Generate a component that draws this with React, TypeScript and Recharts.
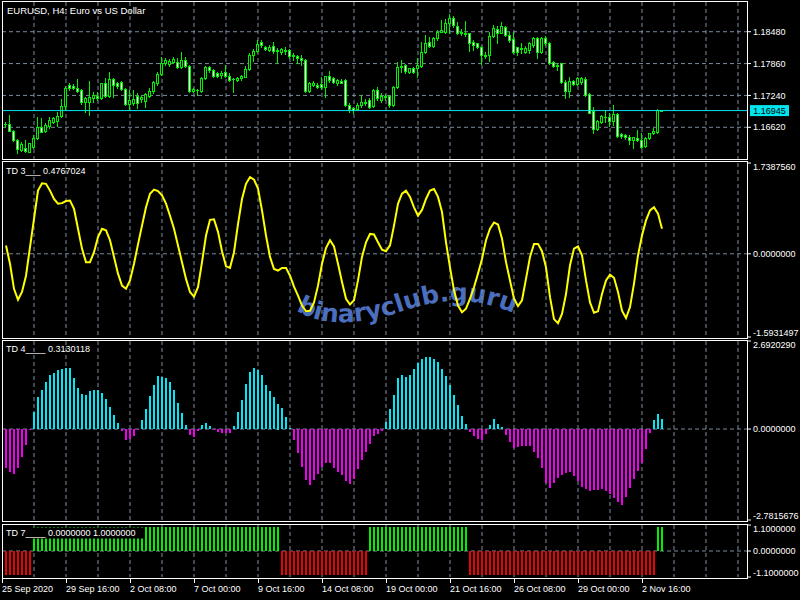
import React from 'react';
import {
  ComposedChart, Bar, Line, XAxis, YAxis, CartesianGrid, ReferenceLine,
} from 'recharts';

// EURUSD H4 candles, one entry per bar (25 Sep - 3 Nov 2020)
const opens = [
  1.16685, 1.16679, 1.16556, 1.16374, 1.16180, 1.16225, 1.16148, 1.16245, 1.16407, 1.16621,
  1.16556, 1.16647, 1.16731, 1.16750, 1.16841, 1.17035, 1.17444, 1.17424, 1.17379, 1.17346,
  1.17120, 1.17120, 1.17184, 1.17230, 1.17184, 1.17476, 1.17230, 1.17554, 1.17476, 1.17502,
  1.17359, 1.17074, 1.17087, 1.17230, 1.17178, 1.17139, 1.17230, 1.17333, 1.17489, 1.17657,
  1.17865, 1.17845, 1.17897, 1.17897, 1.17800, 1.17930, 1.17813, 1.17333, 1.17346, 1.17333,
  1.17573, 1.17787, 1.17735, 1.17670, 1.17638, 1.17703, 1.17619, 1.17554, 1.17540, 1.17573,
  1.17606, 1.17748, 1.18027, 1.18111, 1.18286, 1.18189, 1.18124, 1.18202, 1.18111, 1.18092,
  1.18124, 1.18124, 1.18007, 1.18007, 1.17962, 1.17930, 1.17333, 1.17444, 1.17444, 1.17463,
  1.17398, 1.17619, 1.17573, 1.17489, 1.17528, 1.17540, 1.17055, 1.16990, 1.16971, 1.17055,
  1.17120, 1.17152, 1.17035, 1.17346, 1.17152, 1.17230, 1.17230, 1.17055, 1.17398, 1.17800,
  1.17832, 1.17703, 1.17781, 1.17768, 1.17813, 1.18092, 1.18286, 1.18208, 1.18351, 1.18480,
  1.18480, 1.18642, 1.18740, 1.18591, 1.18480, 1.18461, 1.18448, 1.18286, 1.18254, 1.18176,
  1.18027, 1.18027, 1.18396, 1.18526, 1.18461, 1.18565, 1.18416, 1.18331, 1.18176, 1.18156,
  1.18092, 1.18124, 1.18221, 1.18351, 1.18092, 1.18351, 1.18267, 1.17897, 1.17832, 1.17865,
  1.17508, 1.17333, 1.17521, 1.17463, 1.17508, 1.17554, 1.17262, 1.16938, 1.16582, 1.16731,
  1.16815, 1.16815, 1.16750, 1.16880, 1.16491, 1.16465, 1.16439, 1.16374, 1.16413, 1.16374,
  1.16258, 1.16407, 1.16504, 1.16536, 1.16955,
];
const highs = [
  1.16731, 1.16860, 1.16569, 1.16387, 1.16342, 1.16374, 1.16323, 1.16472, 1.16828, 1.16796,
  1.16698, 1.16815, 1.16828, 1.16925, 1.17165, 1.17424, 1.17489, 1.17457, 1.17554, 1.17359,
  1.17217, 1.17521, 1.17314, 1.17314, 1.17489, 1.17573, 1.17703, 1.17573, 1.17508, 1.17515,
  1.17379, 1.17346, 1.17346, 1.17282, 1.17249, 1.17282, 1.17379, 1.17521, 1.17703, 1.17994,
  1.17962, 1.17943, 1.17981, 1.17962, 1.18085, 1.17981, 1.17832, 1.17379, 1.17359, 1.17606,
  1.17813, 1.17813, 1.17748, 1.17703, 1.17716, 1.17832, 1.17670, 1.17586, 1.17606, 1.17638,
  1.17813, 1.18059, 1.18137, 1.18318, 1.18318, 1.18202, 1.18221, 1.18286, 1.18156, 1.18169,
  1.18176, 1.18137, 1.18059, 1.18027, 1.18027, 1.17943, 1.17508, 1.17515, 1.17476, 1.17606,
  1.17619, 1.17716, 1.17606, 1.17554, 1.17554, 1.17554, 1.17087, 1.17022, 1.17100, 1.17249,
  1.17165, 1.17184, 1.17359, 1.17398, 1.17282, 1.17269, 1.17249, 1.17424, 1.17897, 1.17930,
  1.17845, 1.17781, 1.17800, 1.17962, 1.18286, 1.18416, 1.18383, 1.18383, 1.18513, 1.18707,
  1.18720, 1.18824, 1.18785, 1.18675, 1.18526, 1.18694, 1.18461, 1.18318, 1.18267, 1.18202,
  1.18092, 1.18480, 1.18610, 1.18591, 1.18675, 1.18591, 1.18480, 1.18480, 1.18189, 1.18267,
  1.18202, 1.18286, 1.18370, 1.18383, 1.18383, 1.18396, 1.18286, 1.17917, 1.17865, 1.17878,
  1.17540, 1.17593, 1.17540, 1.17593, 1.17593, 1.17593, 1.17282, 1.17009, 1.16763, 1.16860,
  1.16958, 1.16893, 1.17055, 1.16893, 1.16517, 1.16491, 1.16472, 1.16439, 1.16569, 1.16504,
  1.16426, 1.16517, 1.16601, 1.16984, 1.16965,
];
const lows = [
  1.16634, 1.16549, 1.16361, 1.16115, 1.16167, 1.16148, 1.16135, 1.16212, 1.16387, 1.16523,
  1.16536, 1.16601, 1.16698, 1.16647, 1.16815, 1.16958, 1.17346, 1.17359, 1.17307, 1.17074,
  1.16925, 1.16860, 1.17120, 1.17152, 1.17165, 1.17204, 1.17217, 1.17204, 1.17379, 1.17346,
  1.17055, 1.16958, 1.17055, 1.16990, 1.17120, 1.17022, 1.17204, 1.17282, 1.17444, 1.17638,
  1.17832, 1.17813, 1.17878, 1.17768, 1.17781, 1.17787, 1.17314, 1.17314, 1.17249, 1.17314,
  1.17560, 1.17703, 1.17606, 1.17593, 1.17573, 1.17593, 1.17528, 1.17314, 1.17528, 1.17540,
  1.17593, 1.17735, 1.17910, 1.18092, 1.18189, 1.18124, 1.18111, 1.18059, 1.17865, 1.18046,
  1.18046, 1.17962, 1.17930, 1.17865, 1.17832, 1.17314, 1.17314, 1.17424, 1.17379, 1.17359,
  1.17217, 1.17508, 1.17489, 1.17444, 1.17476, 1.17035, 1.16925, 1.16893, 1.16958, 1.17022,
  1.17055, 1.16990, 1.17009, 1.17152, 1.17120, 1.17152, 1.17022, 1.17035, 1.17379, 1.17703,
  1.17670, 1.17670, 1.17670, 1.17606, 1.17800, 1.18072, 1.18189, 1.18189, 1.18318, 1.18480,
  1.18448, 1.18448, 1.18578, 1.18435, 1.18416, 1.18396, 1.18111, 1.18124, 1.18156, 1.17852,
  1.17962, 1.17910, 1.18383, 1.18254, 1.18448, 1.18396, 1.18286, 1.18059, 1.18027, 1.18072,
  1.18059, 1.18072, 1.18189, 1.17962, 1.18072, 1.18221, 1.17852, 1.17800, 1.17735, 1.17489,
  1.17184, 1.17204, 1.17437, 1.17437, 1.17463, 1.17230, 1.16893, 1.16504, 1.16569, 1.16711,
  1.16731, 1.16647, 1.16666, 1.16426, 1.16407, 1.16387, 1.16297, 1.16212, 1.16361, 1.16212,
  1.16245, 1.16387, 1.16491, 1.16517, 1.16940,
];
const closes = [
  1.16688, 1.16556, 1.16374, 1.16199, 1.16297, 1.16161, 1.16310, 1.16420, 1.16621, 1.16536,
  1.16666, 1.16763, 1.16796, 1.16841, 1.17035, 1.17379, 1.17379, 1.17379, 1.17333, 1.17120,
  1.17184, 1.17217, 1.17249, 1.17191, 1.17476, 1.17230, 1.17554, 1.17444, 1.17424, 1.17359,
  1.17074, 1.17152, 1.17165, 1.17087, 1.17217, 1.17269, 1.17333, 1.17508, 1.17657, 1.17865,
  1.17930, 1.17910, 1.17943, 1.17800, 1.17930, 1.17813, 1.17333, 1.17359, 1.17346, 1.17573,
  1.17800, 1.17735, 1.17619, 1.17619, 1.17683, 1.17619, 1.17540, 1.17567, 1.17573, 1.17619,
  1.17748, 1.18027, 1.18111, 1.18234, 1.18221, 1.18137, 1.18176, 1.18111, 1.18124, 1.18137,
  1.18111, 1.18007, 1.18027, 1.17962, 1.17930, 1.17333, 1.17476, 1.17476, 1.17411, 1.17398,
  1.17619, 1.17540, 1.17508, 1.17540, 1.17489, 1.17055, 1.16971, 1.16958, 1.17055, 1.17120,
  1.17100, 1.17022, 1.17346, 1.17184, 1.17230, 1.17204, 1.17055, 1.17398, 1.17800, 1.17819,
  1.17716, 1.17768, 1.17703, 1.17832, 1.18092, 1.18267, 1.18208, 1.18351, 1.18480, 1.18513,
  1.18642, 1.18740, 1.18610, 1.18461, 1.18448, 1.18435, 1.18267, 1.18221, 1.18176, 1.18027,
  1.18007, 1.18396, 1.18545, 1.18448, 1.18591, 1.18416, 1.18318, 1.18092, 1.18092, 1.18137,
  1.18156, 1.18254, 1.18351, 1.18092, 1.18351, 1.18254, 1.17878, 1.17813, 1.17813, 1.17508,
  1.17333, 1.17521, 1.17463, 1.17573, 1.17573, 1.17249, 1.16906, 1.16582, 1.16750, 1.16841,
  1.16828, 1.16750, 1.16880, 1.16452, 1.16452, 1.16426, 1.16374, 1.16426, 1.16374, 1.16245,
  1.16407, 1.16504, 1.16556, 1.16955, 1.16945,
];

// TD 3 oscillator (yellow line)
const td3 = [
  0.16, -0.19, -0.67, -0.88, -0.73, -0.42, 0.13, 0.67, 1.21, 1.35,
  1.34, 1.21, 1.05, 0.96, 0.97, 1.01, 1.02, 0.86, 0.48, 0.10,
  -0.16, -0.16, 0.03, 0.32, 0.48, 0.45, 0.26, -0.06, -0.38, -0.61,
  -0.67, -0.51, -0.19, 0.18, 0.54, 0.89, 1.15, 1.23, 1.20, 1.12,
  0.96, 0.73, 0.48, 0.16, -0.16, -0.48, -0.73, -0.82, -0.64, -0.16,
  0.35, 0.65, 0.66, 0.42, 0.05, -0.24, -0.27, 0.03, 0.57, 1.05,
  1.34, 1.47, 1.42, 1.25, 0.83, 0.35, -0.06, -0.29, -0.32, -0.27,
  -0.27, -0.42, -0.63, -0.80, -0.99, -1.10, -1.09, -0.93, -0.61, -0.19,
  0.11, 0.26, 0.14, -0.19, -0.54, -0.86, -0.97, -0.89, -0.51, -0.06,
  0.22, 0.38, 0.37, 0.22, 0.08, 0.05, 0.16, 0.54, 0.96, 1.15,
  1.21, 1.09, 0.89, 0.73, 0.84, 1.05, 1.21, 1.24, 1.09, 0.80,
  0.22, -0.26, -0.70, -0.99, -1.12, -1.05, -0.86, -0.64, -0.38, -0.10,
  0.26, 0.48, 0.60, 0.56, 0.29, -0.16, -0.51, -0.86, -1.00, -0.89,
  -0.48, -0.06, 0.19, 0.19, 0.05, -0.26, -0.83, -1.25, -1.33, -1.15,
  -0.77, -0.22, 0.10, 0.14, -0.03, -0.51, -0.93, -1.13, -1.10, -0.77,
  -0.51, -0.40, -0.46, -0.73, -1.09, -1.23, -1.02, -0.57, -0.03, 0.35,
  0.64, 0.83, 0.89, 0.77, 0.48,
];

// TD 4 histogram
const td4 = [
  -1.18, -1.30, -1.37, -1.18, -0.87, -0.48, -0.02, 0.53, 0.98, 1.19,
  1.45, 1.66, 1.72, 1.81, 1.84, 1.87, 1.87, 1.56, 1.26, 1.08,
  1.04, 1.16, 1.19, 1.20, 1.10, 0.92, 0.68, 0.43, 0.18, -0.07,
  -0.33, -0.30, -0.20, -0.02, 0.28, 0.61, 1.01, 1.35, 1.63, 1.60,
  1.56, 1.44, 1.18, 0.80, 0.48, 0.11, -0.17, -0.24, -0.05, 0.12,
  0.17, 0.09, -0.01, -0.08, -0.11, -0.12, -0.11, 0.09, 0.52, 0.90,
  1.38, 1.73, 1.87, 1.81, 1.64, 1.35, 1.17, 0.98, 0.78, 0.63,
  0.37, 0.03, -0.33, -0.74, -1.17, -1.55, -1.71, -1.55, -1.37, -1.17,
  -1.03, -1.03, -1.18, -1.30, -1.42, -1.59, -1.68, -1.52, -1.22, -0.94,
  -0.70, -0.45, -0.20, -0.14, -0.06, 0.21, 0.61, 1.04, 1.56, 1.65,
  1.59, 1.65, 1.83, 2.03, 2.14, 2.21, 2.21, 2.14, 2.04, 1.83,
  1.62, 1.36, 1.04, 0.72, 0.41, 0.16, -0.08, -0.20, -0.31, -0.34,
  -0.15, 0.13, 0.30, 0.16, 0.05, -0.18, -0.39, -0.57, -0.54, -0.52,
  -0.52, -0.51, -0.70, -0.88, -1.19, -1.66, -1.81, -1.65, -1.51, -1.42,
  -1.35, -1.33, -1.43, -1.60, -1.76, -1.84, -1.89, -1.88, -1.86, -1.84,
  -1.89, -1.99, -2.11, -2.23, -2.33, -2.09, -1.80, -1.54, -1.29, -1.05,
  -0.62, -0.12, 0.28, 0.45, 0.31,
];

// TD 7 trend state
const td7 = [
  -1, -1, -1, -1, -1, -1, -1,
  1, 1, 1, 1, 1, 1, 1, 1, 1, 1,
  1, 1, 1, 1, 1, 1, 1, 1, 1, 1,
  1, 1, 1, 1, 1, 1, 1, 1, 1, 1,
  1, 1, 1, 1, 1, 1, 1, 1, 1, 1,
  1, 1, 1, 1, 1, 1, 1, 1, 1, 1,
  1, 1, 1, 1, 1, 1, 1, 1, 1, 1,
  1, 1,
  -1, -1, -1, -1, -1, -1, -1, -1, -1, -1,
  -1, -1, -1, -1, -1, -1, -1, -1, -1, -1,
  -1, -1,
  1, 1, 1, 1, 1, 1, 1, 1, 1, 1,
  1, 1, 1, 1, 1, 1, 1, 1, 1, 1,
  1, 1, 1, 1, 1,
  -1, -1, -1, -1, -1, -1, -1, -1, -1, -1,
  -1, -1, -1, -1, -1, -1, -1, -1, -1, -1,
  -1, -1, -1, -1, -1, -1, -1, -1, -1, -1,
  -1, -1, -1, -1, -1, -1, -1, -1, -1, -1,
  -1, -1, -1, -1, -1, -1, -1,
  1, 1,
];

const priceTicks = [1.1662, 1.1724, 1.1786, 1.1848];
const td3Ticks = [-1.5931497, 0, 1.738756];
const td4Ticks = [-2.7815676, 0, 2.692029];
const td7Ticks = [-1.1, 0, 1.1];
const gridCols = [7, 15, 23, 31, 39, 47, 55, 63, 71, 79, 87, 95, 103, 111, 119, 127, 135, 143, 151, 159, 167, 175, 183];
const timeTicks = [-1, 15, 31, 47, 63, 79, 95, 111, 127, 143, 159];
const timeLabels = [
  '25 Sep 2020', '29 Sep 16:00', '2 Oct 08:00', '7 Oct 00:00', '9 Oct 16:00', '14 Oct 08:00',
  '19 Oct 00:00', '21 Oct 16:00', '26 Oct 08:00', '29 Oct 00:00', '2 Nov 16:00',
];

const xDomain: [number, number] = [-1, 185.25];
const priceDomain: [number, number] = [1.16003, 1.19058];

const FONT = '"Liberation Sans", Arial, sans-serif';
const GRID = '#7a8a9c';
const LIME = '#00f000';
const CYAN = '#00e5ee';
const AQUA_BAR = '#00e8f8';
const MAGENTA = '#f000f0';
const RED = '#ee0000';
const YELLOW = '#ffff00';

const rows = closes.map((c, i) => ({
  i, open: opens[i], high: highs[i], low: lows[i], close: c,
  td3: td3[i], td4: td4[i], td7: td7[i],
}));
const lastClose = closes[closes.length - 1];

function Candle(props: any) {
  const { x, y, width, height, payload } = props;
  if (x == null || !payload) return null;
  const { open, close, high, low } = payload;
  const yTop = Math.min(y, y + height);
  const h = Math.abs(height);
  const span = high - low || 1e-9;
  const py = (p: number) => yTop + ((high - p) / span) * h;
  const cx = Math.floor(x + width / 2) + 0.5;
  const top = Math.round(py(Math.max(open, close)));
  const bot = Math.round(py(Math.min(open, close)));
  const bull = close > open;
  return (
    <g shapeRendering="crispEdges">
      <line x1={cx} x2={cx} y1={Math.round(yTop)} y2={Math.round(yTop + h) + 1} stroke={LIME} />
      {bot - top < 1 ? (
        <line x1={cx - 1.5} x2={cx + 1.5} y1={top + 0.5} y2={top + 0.5} stroke={LIME} />
      ) : (
        <rect x={cx - 1} y={top + 0.5} width={2} height={bot - top} fill={bull ? '#000' : '#fff'} stroke={LIME} />
      )}
    </g>
  );
}

// solid 2px histogram bar, colour picked from the sign of the value
function histBar(key: 'td4' | 'td7', up: string, down: string) {
  return (props: any) => {
    const { x, y, width, height, payload } = props;
    if (x == null || !payload) return null;
    const top = Math.round(Math.min(y, y + height));
    const h = Math.max(1, Math.round(Math.abs(height)));
    return (
      <rect x={Math.round(x)} y={top} width={Math.max(2, Math.round(width))} height={h}
        fill={payload[key] >= 0 ? up : down} shapeRendering="crispEdges" />
    );
  };
}

function yTick(digits: number, ticks: number[], edge: boolean) {
  const lo = Math.min(...ticks);
  const hi = Math.max(...ticks);
  return (props: any) => {
    const v = props.payload.value;
    const shift = !edge ? 0 : v === hi ? 4 : v === lo ? -4 : 0;
    return (
      <text x={props.x} y={props.y + shift} dy="0.35em" fill="#fff" fontSize={9} fontFamily={FONT} textAnchor="start">
        {Number(v).toFixed(digits)}
      </text>
    );
  };
}

function TimeTick(props: any) {
  const { x, y, payload } = props;
  const label = timeLabels[timeTicks.indexOf(payload.value)];
  const lx = Math.round(x) + 0.5;
  return (
    <g>
      <line x1={lx} x2={lx} y1={y + 2} y2={y + 6} stroke="#fff" shapeRendering="crispEdges" />
      <text x={x} y={y + 15} fill="#fff" fontSize={9} fontFamily={FONT} textAnchor="start">{label}</text>
    </g>
  );
}

function PriceTag(props: any) {
  const vb = props.viewBox;
  if (!vb) return null;
  const x = vb.x + vb.width + 3;
  const y = vb.y;
  return (
    <g>
      <rect x={x} y={y - 5.5} width={39} height={11} fill={CYAN} />
      <text x={x + 19.5} y={y} dy="0.35em" textAnchor="middle" fill="#000" fontSize={9} fontFamily={FONT}>{props.tag}</text>
    </g>
  );
}

const axisCommon = {
  orientation: 'right' as const,
  width: 53,
  allowDataOverflow: true,
  tickSize: 4,
  tickMargin: 2,
  tickLine: { stroke: '#fff' },
  axisLine: false,
  interval: 0 as const,
  type: 'number' as const,
};

const abs = (top: number): React.CSSProperties => ({ position: 'absolute', left: 0, top });

export default function App() {
  return (
    <div style={{ position: 'absolute', left: 0, top: 0, width: 800, height: 600, background: '#000', overflow: 'hidden' }}>
      <svg width={800} height={600} style={{ position: 'absolute', left: 0, top: 0 }}>
        <defs>
          <path id="wm" d="M 296 310 C 320 327, 360 325, 400 312 S 470 295, 516 314" />
        </defs>
        <text fontFamily="'DejaVu Sans', sans-serif" fontWeight="bold" fontSize={25} fill="#4b6fbe">
          <textPath href="#wm">binaryclub.guru</textPath>
        </text>
      </svg>

      <div style={abs(0)}>
        <ComposedChart width={800} height={161} data={rows} margin={{ top: 2, right: 0, bottom: 2, left: 2 }}>
          <CartesianGrid stroke={GRID} strokeDasharray="4 3" verticalValues={gridCols} horizontalValues={priceTicks} />
          <XAxis type="number" dataKey="i" domain={xDomain} allowDataOverflow hide />
          <YAxis {...axisCommon} domain={priceDomain} ticks={priceTicks} tick={yTick(5, priceTicks, false)} />
          <ReferenceLine y={lastClose} stroke={CYAN} label={<PriceTag tag={lastClose.toFixed(5)} />} />
          <Bar dataKey={(d: any) => [d.low, d.high]} barSize={3} shape={<Candle />} isAnimationActive={false} />
        </ComposedChart>
      </div>

      <div style={abs(159)}>
        <ComposedChart width={800} height={182} data={rows} margin={{ top: 4, right: 0, bottom: 4, left: 2 }}>
          <CartesianGrid stroke={GRID} strokeDasharray="4 3" verticalValues={gridCols} horizontalValues={[0]} />
          <XAxis type="number" dataKey="i" domain={xDomain} allowDataOverflow hide />
          <YAxis {...axisCommon} domain={[td3Ticks[0], td3Ticks[2]]} ticks={td3Ticks} tick={yTick(7, td3Ticks, true)} />
          <Line dataKey="td3" type="linear" stroke={YELLOW} strokeWidth={2} dot={false} isAnimationActive={false} />
        </ComposedChart>
      </div>

      <div style={abs(337)}>
        <ComposedChart width={800} height={187} data={rows} margin={{ top: 4, right: 0, bottom: 4, left: 2 }}>
          <CartesianGrid stroke={GRID} strokeDasharray="4 3" verticalValues={gridCols} horizontalValues={[0]} />
          <XAxis type="number" dataKey="i" domain={xDomain} allowDataOverflow hide />
          <YAxis {...axisCommon} domain={[td4Ticks[0], td4Ticks[2]]} ticks={td4Ticks} tick={yTick(7, td4Ticks, true)} />
          <Bar dataKey="td4" barSize={2} shape={histBar('td4', AQUA_BAR, MAGENTA)} isAnimationActive={false} />
        </ComposedChart>
      </div>

      <div style={abs(521)}>
        <ComposedChart width={800} height={79} data={rows} margin={{ top: 4, right: 0, bottom: 0, left: 2 }}>
          <CartesianGrid stroke={GRID} strokeDasharray="4 3" verticalValues={gridCols} horizontalValues={[0]} />
          <XAxis
            type="number" dataKey="i" domain={xDomain} allowDataOverflow ticks={timeTicks} interval={0}
            height={23} tickSize={0} tickMargin={0} tickLine={false} axisLine={false} tick={<TimeTick />}
          />
          <YAxis {...axisCommon} domain={[td7Ticks[0], td7Ticks[2]]} ticks={td7Ticks} tick={yTick(7, td7Ticks, true)} />
          <Bar dataKey="td7" barSize={2} shape={histBar('td7', LIME, RED)} isAnimationActive={false} />
        </ComposedChart>
      </div>

      <svg width={800} height={600} style={{ position: 'absolute', left: 0, top: 0, pointerEvents: 'none' }}>
        <g fill="none" stroke="#fff" shapeRendering="crispEdges">
          <rect x={2.5} y={1.5} width={745} height={158} />
          <rect x={2.5} y={161.5} width={745} height={177} />
          <rect x={2.5} y={340.5} width={745} height={181} />
          <rect x={2.5} y={524.5} width={745} height={54} />
        </g>
        <g fill="#fff" fontSize={9} fontFamily={FONT}>
          <text x={7} y={10} fontSize={9.5} dominantBaseline="central">EURUSD, H4:  Euro vs US Dollar</text>
          <text x={6} y={171} dominantBaseline="central">TD 3___ 0.4767024</text>
          <text x={6} y={349} dominantBaseline="central">TD 4____ 0.3130118</text>
          <rect x={4} y={527.5} width={139} height={11} fill="#000" />
          <text x={6} y={532.5} dominantBaseline="central">TD 7____ 0.0000000 1.0000000</text>
        </g>
      </svg>
    </div>
  );
}
